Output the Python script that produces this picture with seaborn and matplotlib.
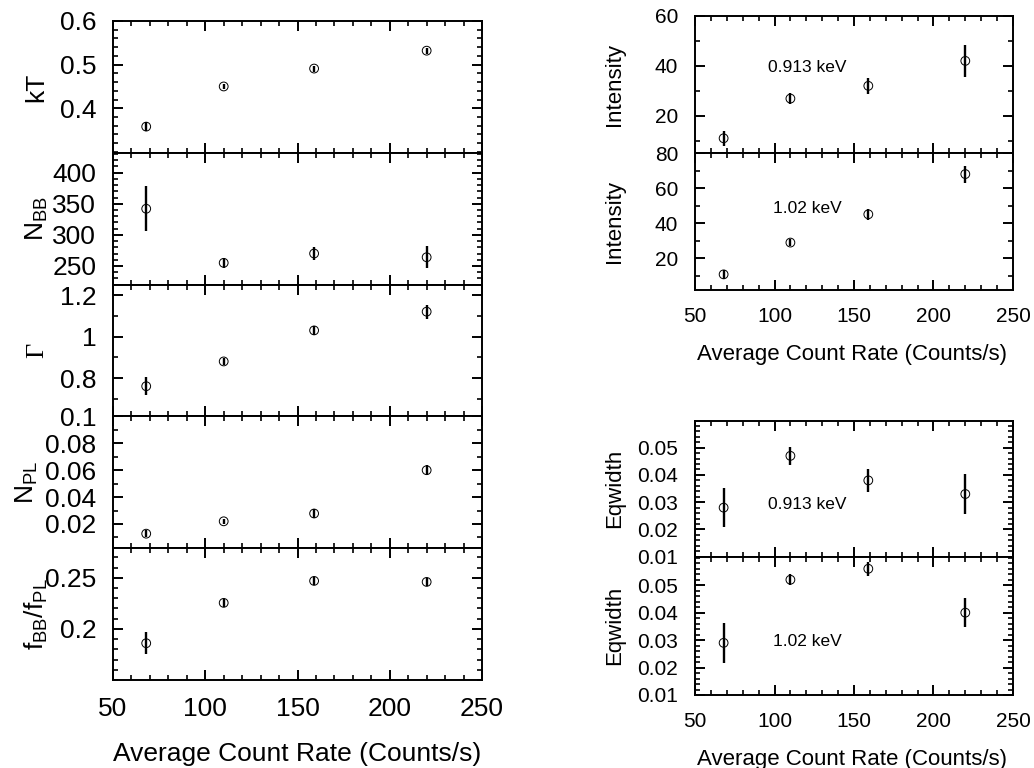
import matplotlib
matplotlib.use("Agg")
import matplotlib.pyplot as plt
import matplotlib.ticker as mticker
import seaborn as sns
import numpy as np

# count rate of the four observations
rate = [68, 110, 159, 220]

# left column: continuum parameters
kt = [0.358, 0.450, 0.491, 0.532]
kt_err = [0.011, 0.006, 0.007, 0.007]
n_bb = [342, 255, 270, 264]
n_bb_err = [36, 8, 10, 17.5]
gamma = [0.762, 0.881, 1.03, 1.12]
gamma_err = [0.044, 0.018, 0.022, 0.034]
n_pl = [0.0128, 0.022, 0.0278, 0.060]
n_pl_err = [0.0025, 0.002, 0.003, 0.0035]
f_ratio = [0.186, 0.2255, 0.247, 0.246]
f_ratio_err = [0.0105, 0.004, 0.004, 0.004]

# right column: emission lines
int_913 = [10.9, 26.8, 31.9, 41.9]
int_913_err = [3.1, 2.3, 3.3, 6.3]
int_102 = [10.9, 29.0, 45.1, 68.0]
int_102_err = [2.5, 1.9, 3.0, 4.8]
eqw_913 = [0.028, 0.047, 0.038, 0.033]
eqw_913_err = [0.0072, 0.0032, 0.0042, 0.0072]
eqw_102 = [0.029, 0.052, 0.056, 0.040]
eqw_102_err = [0.0072, 0.002, 0.0026, 0.0052]

sns.set_style("ticks")
plt.rcParams["font.family"] = ["Liberation Sans", "DejaVu Sans"]
plt.rcParams["mathtext.fontset"] = "custom"
plt.rcParams["mathtext.rm"] = "Liberation Sans"
plt.rcParams["mathtext.it"] = "Liberation Sans:italic"
plt.rcParams["axes.linewidth"] = 1.4
for key in ["axes.edgecolor", "xtick.color", "ytick.color", "text.color",
            "axes.labelcolor"]:
    plt.rcParams[key] = "black"

W, H = 1034, 768
fig = plt.figure(figsize=(W / 100, H / 100), dpi=100)


def px_axes(x0, x1, ytop, ybot):
    return fig.add_axes([x0 / W, 1 - ybot / H, (x1 - x0) / W, (ybot - ytop) / H])


def panel(ax, y, yerr, ylim, major, minor, ylabel, lab_x, fs_tick, fs_lab,
          show_x, lab_family=None):
    sns.scatterplot(x=rate, y=y, ax=ax, marker="o", s=40, color="none",
                    edgecolor="black", linewidth=0.7, zorder=3)
    ax.errorbar(rate, y, yerr=yerr, fmt="none", ecolor="black",
                elinewidth=1.7, capsize=0, zorder=4)
    ax.set_xlim(50, 250)
    ax.set_ylim(*ylim)
    ax.xaxis.set_major_locator(mticker.MultipleLocator(50))
    ax.xaxis.set_minor_locator(mticker.MultipleLocator(10))
    ax.yaxis.set_major_locator(mticker.FixedLocator(major))
    ax.yaxis.set_minor_locator(mticker.MultipleLocator(minor))
    ax.yaxis.set_major_formatter(mticker.FuncFormatter(lambda v, p: "%g" % v))
    ax.tick_params(which="both", direction="in", top=True, right=True,
                   labelsize=fs_tick, pad=12)
    ax.tick_params(which="major", length=7.5, width=1.4)
    ax.tick_params(which="minor", length=3.8, width=1.2)
    if not show_x:
        ax.tick_params(labelbottom=False)
    ax.set_xlabel("")
    if lab_family:
        ax.set_ylabel(ylabel, fontsize=fs_lab, family=lab_family)
    else:
        ax.set_ylabel(ylabel, fontsize=fs_lab)
    ax.yaxis.set_label_coords(lab_x, 0.5)


# left column, five stacked panels
top, bot = 21, 680
step = (bot - top) / 5
left_specs = [
    (kt, kt_err, (0.298, 0.6), [0.4, 0.5, 0.6], 0.02, "kT", -0.176, None),
    (n_bb, n_bb_err, (220, 432), [250, 300, 350, 400], 10,
     r"$\mathregular{N_{BB}}$", -0.171, None),
    (gamma, gamma_err, (0.617, 1.25), [0.8, 1.0, 1.2], 0.1, "Γ", -0.176,
     ["Liberation Serif", "DejaVu Serif"]),
    (n_pl, n_pl_err, (0.002, 0.1), [0.02, 0.04, 0.06, 0.08, 0.1], 0.01,
     r"$\mathregular{N_{PL}}$", -0.198, None),
    (f_ratio, f_ratio_err, (0.15, 0.279), [0.2, 0.25], 0.01,
     r"$\mathregular{f_{BB}/f_{PL}}$", -0.171, None),
]
for i, (y, e, lim, maj, mnr, lab, lx, fam) in enumerate(left_specs):
    ax = px_axes(113, 482, top + i * step, top + (i + 1) * step)
    panel(ax, y, e, lim, maj, mnr, lab, lx, 19, 19, i == 4, fam)

# right column, intensity pair
ax1 = px_axes(695, 1013, 15.7, 153)
panel(ax1, int_913, int_913_err, (5, 60), [20, 40, 60], 10, "Intensity",
      -0.22, 15, 16, False)
ax1.text(96, 39.4, "0.913 keV", ha="left", va="center", fontsize=12.5)
ax2 = px_axes(695, 1013, 153, 290)
panel(ax2, int_102, int_102_err, (2, 80), [20, 40, 60, 80], 10, "Intensity",
      -0.22, 15, 16, True)
ax2.text(99, 48.6, "1.02 keV", ha="left", va="center", fontsize=12.5)

# right column, equivalent width pair
ax3 = px_axes(695, 1013, 420.7, 556.7)
panel(ax3, eqw_913, eqw_913_err, (0.01, 0.0599),
      [0.01, 0.02, 0.03, 0.04, 0.05], 0.002, "Eqwidth", -0.22, 15, 16, False)
ax3.text(96, 0.0292, "0.913 keV", ha="left", va="center", fontsize=12.5)
ax4 = px_axes(695, 1013, 556.7, 695)
panel(ax4, eqw_102, eqw_102_err, (0.01, 0.0604),
      [0.01, 0.02, 0.03, 0.04, 0.05], 0.002, "Eqwidth", -0.22, 15, 16, True)
ax4.text(99, 0.0295, "1.02 keV", ha="left", va="center", fontsize=12.5)

fig.text(297 / W, 1 - 761.5 / H, "Average Count Rate (Counts/s)",
         ha="center", va="baseline", fontsize=19)
fig.text(852 / W, 1 - 360 / H, "Average Count Rate (Counts/s)",
         ha="center", va="baseline", fontsize=16)
fig.text(852 / W, 1 - 765 / H, "Average Count Rate (Counts/s)",
         ha="center", va="baseline", fontsize=16)

fig.savefig("out.png", dpi=100)
